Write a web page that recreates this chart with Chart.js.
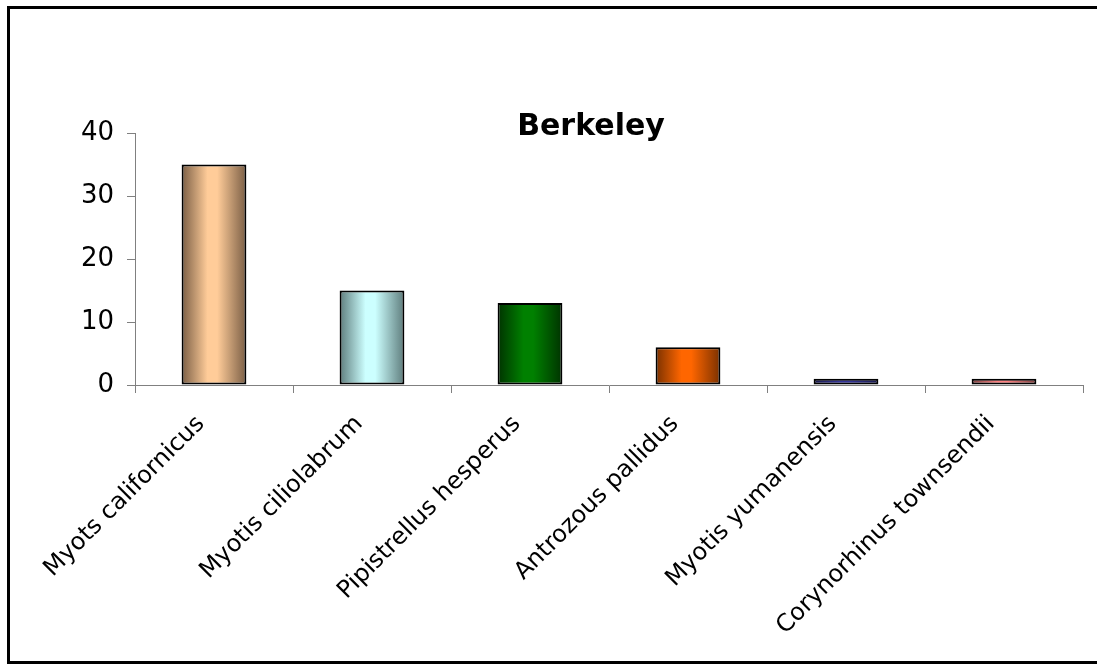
<!DOCTYPE html>
<html>
<head>
<meta charset="utf-8">
<script src="https://cdn.jsdelivr.net/npm/chart.js@4/dist/chart.umd.min.js"></script>
<style>
    html, body { margin: 0; padding: 0; background: #fff; }
    #wrap { width: 1097px; height: 665px; }
</style>
</head>
<body>
<div id="wrap"><canvas id="graphs"></canvas></div>
<script>
const species = ['Myots californicus', 'Myotis ciliolabrum', 'Pipistrellus hesperus', 'Antrozous pallidus', 'Myotis yumanensis', 'Corynorhinus townsendii'];
const counts = [35, 15, 13, 6, 1, 1];
const yTicks = [0, 10, 20, 30, 40];
const chartTitle = 'Berkeley';

// light centre / dark edge of each bar
const barLight = ['#ffcc99', '#ccffff', '#008000', '#ff6600', '#333399', '#ff8080'];
const barDark = ['#7a5e45', '#5e7c7c', '#003300', '#7a3100', '#1a1a4d', '#7d4040'];
const BAR_FRACTION = 0.41;

function barGradient(context) {
    const chart = context.chart;
    const xScale = chart.scales.x;
    const i = context.dataIndex;
    if (!xScale || i === undefined) {
        return barLight[0];
    }
    const cx = xScale.getPixelForValue(i);
    const w = (xScale.width / species.length) * BAR_FRACTION;
    if (!Number.isFinite(cx) || !Number.isFinite(w) || w <= 0) {
        return barLight[i];
    }
    const g = chart.ctx.createLinearGradient(cx - w / 2, 0, cx + w / 2, 0);
    g.addColorStop(0, barDark[i]);
    g.addColorStop(0.4, barLight[i]);
    g.addColorStop(0.55, barLight[i]);
    g.addColorStop(1, barDark[i]);
    return g;
}

const frameAndTitle = {
    id: 'frameAndTitle',
    beforeDraw(chart) {
        const ctx = chart.ctx;
        ctx.save();
        ctx.fillStyle = '#fff';
        ctx.fillRect(0, 0, chart.width, chart.height);
        ctx.restore();
    },
    afterDraw(chart) {
        const ctx = chart.ctx;
        ctx.save();
        // outer frame, runs past the right edge like the source
        ctx.strokeStyle = '#000';
        ctx.lineWidth = 3;
        ctx.strokeRect(8.5, 7.5, 1100, 655);
        ctx.fillStyle = '#000';
        ctx.font = 'bold 30px "DejaVu Sans"';
        ctx.textAlign = 'center';
        ctx.textBaseline = 'middle';
        ctx.fillText(chartTitle, 591, 127);
        ctx.restore();
    }
};

const ctx = document.getElementById('graphs').getContext('2d');

new Chart(ctx, {
    type: 'bar',
    data: {
        labels: species,
        datasets: [{
            data: counts,
            backgroundColor: barGradient,
            borderColor: '#000',
            borderWidth: 2,
            borderSkipped: false,
            categoryPercentage: 1,
            barPercentage: BAR_FRACTION,
        }],
    },
    options: {
        responsive: true,
        maintainAspectRatio: false,
        animation: false,
        events: [],
        layout: {
            padding: { top: 133, right: 14, left: 0, bottom: 0 }
        },
        plugins: {
            legend: { display: false },
            title: { display: false },
            tooltip: { enabled: false },
        },
        scales: {
            y: {
                min: 0,
                max: 40,
                afterFit(scale) { scale.width = 135; },
                afterBuildTicks(scale) {
                    scale.ticks = yTicks.map(v => ({ value: v }));
                },
                border: { color: '#808080', width: 1 },
                grid: {
                    drawOnChartArea: false,
                    color: '#808080',
                    tickLength: 8,
                },
                ticks: {
                    color: '#000',
                    font: { family: 'DejaVu Sans', size: 26 },
                    padding: 13,
                },
            },
            x: {
                afterFit(scale) { scale.height = 280; },
                border: { color: '#808080', width: 1 },
                grid: {
                    drawOnChartArea: false,
                    color: '#808080',
                    tickLength: 8,
                    offset: true,
                },
                ticks: {
                    color: '#000',
                    font: { family: 'DejaVu Sans', size: 24 },
                    minRotation: 45,
                    maxRotation: 45,
                    autoSkip: false,
                    padding: 17,
                    labelOffset: -13,
                },
            },
        },
    },
    plugins: [frameAndTitle],
});
</script>
</body>
</html>
